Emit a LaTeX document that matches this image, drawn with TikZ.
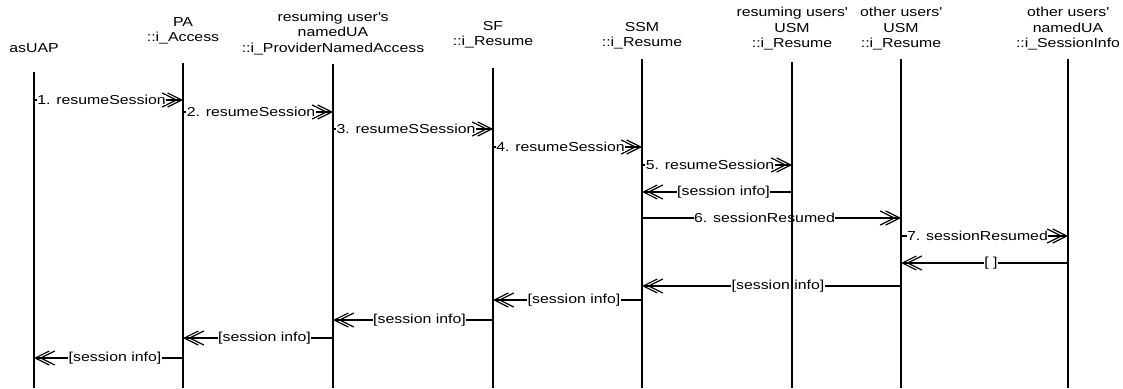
\documentclass[tikz,border=0pt]{standalone}
\usepackage{fontspec}
\setmainfont[FakeStretch=1.22]{Liberation Sans}
\usetikzlibrary{arrows.meta}
\begin{document}
\begin{tikzpicture}[x=1pt,y=-1pt,
  txt/.style={font=\fontsize{13}{15.5}\selectfont},
  head/.style={txt, align=center, inner sep=0pt},
  life/.style={line width=1.8pt},
  msg/.style={line width=1.2pt,
    -{Straight Barb[length=14pt,width=14pt,sep=-10.5pt]
      Straight Barb[length=14pt,width=14pt]}},
  lbl/.style={txt, fill=white, inner sep=0.6pt},
  fwd/.style={lbl, xshift=-7pt},
  back/.style={lbl, xshift=6.5pt},
]
\useasboundingbox (0,0) rectangle (1123,388);

% participant headings
\node[head] (hA) at (34,48)    {asUAP};
\node[head] (hB) at (183,31)   {PA\\::i\_Access};
\node[head] (hC) at (333,33.5) {resuming user\textquotesingle s\\namedUA\\::i\_ProviderNamedAccess};
\node[head] (hD) at (493,35)   {SF\\::i\_Resume};
\node[head] (hE) at (642,36)   {SSM\\::i\_Resume};
\node[head] (hF) at (792,29)   {resuming users\textquotesingle\\USM\\::i\_Resume};
\node[head] (hG) at (901,29)   {other users\textquotesingle\\USM\\::i\_Resume};
\node[head] (hH) at (1068,29)  {other users\textquotesingle\\namedUA\\::i\_SessionInfo};

% lifeline ends
\coordinate (A0) at (34,72);   \coordinate (A1) at (34,388);
\coordinate (B0) at (183,63);  \coordinate (B1) at (183,388);
\coordinate (C0) at (333,64);  \coordinate (C1) at (333,388);
\coordinate (D0) at (493,68);  \coordinate (D1) at (493,388);
\coordinate (E0) at (642,59);  \coordinate (E1) at (642,388);
\coordinate (F0) at (792,62);  \coordinate (F1) at (792,388);
\coordinate (G0) at (901,59);  \coordinate (G1) at (901,388);
\coordinate (H0) at (1068,59); \coordinate (H1) at (1068,388);

% calls
\draw[msg] (A0 |- 0,100) -- node[fwd] {1. resumeSession} (B0 |- 0,100);
\draw[msg] (B0 |- 0,112) -- node[fwd] {2. resumeSession} (C0 |- 0,112);
\draw[msg] (C0 |- 0,129) -- node[fwd] {3. resumeSSession} (D0 |- 0,129);
\draw[msg] (D0 |- 0,147) -- node[fwd] {4. resumeSession} (E0 |- 0,147);
\draw[msg] (E0 |- 0,165) -- node[fwd] {5. resumeSession} (F0 |- 0,165);
\draw[msg] (F0 |- 0,192) -- node[back] {[session info]} (E0 |- 0,192);
\draw[msg] (E0 |- 0,218) -- node[fwd] {6. sessionResumed} (G0 |- 0,218);
\draw[msg] (G0 |- 0,236) -- node[fwd] {7. sessionResumed} (H0 |- 0,236);
\draw[msg] (H0 |- 0,263) -- node[back] {[ ]} (G0 |- 0,263);
\draw[msg] (G0 |- 0,286) -- node[back] {[session info]} (E0 |- 0,286);
\draw[msg] (E0 |- 0,300) -- node[back] {[session info]} (D0 |- 0,300);
\draw[msg] (D0 |- 0,320) -- node[back] {[session info]} (C0 |- 0,320);
\draw[msg] (C0 |- 0,338) -- node[back] {[session info]} (B0 |- 0,338);
\draw[msg] (B0 |- 0,358) -- node[back] {[session info]} (A0 |- 0,358);

% lifelines on top
\foreach \p in {A,B,C,D,E,F,G,H}
  \draw[life] (\p0) -- (\p1);
\end{tikzpicture}
\end{document}
